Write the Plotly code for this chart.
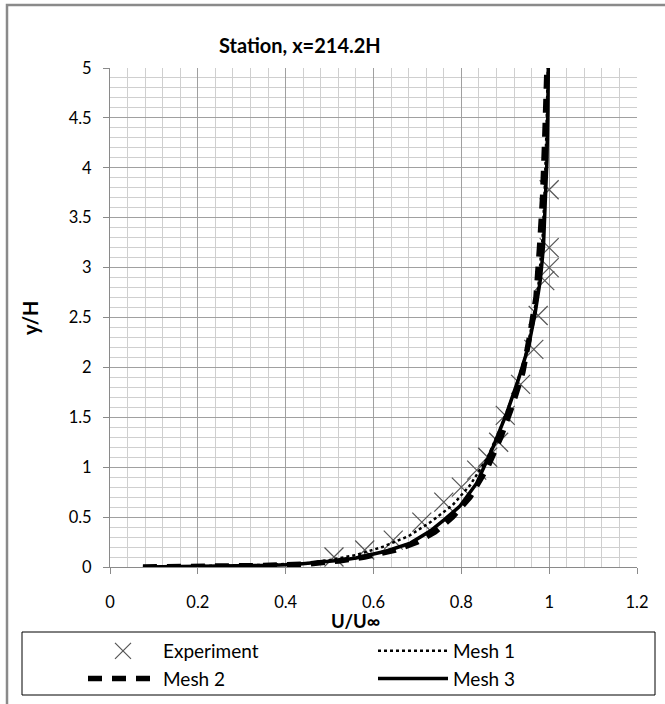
import plotly.graph_objects as go

# ---------------- data ----------------
exp_x = [0.51, 0.58, 0.645, 0.71, 0.76, 0.80, 0.835, 0.86, 0.885, 0.90, 0.935, 0.965, 0.975, 0.99, 1.0, 1.0, 1.0]
exp_y = [0.10, 0.17, 0.27, 0.45, 0.65, 0.80, 0.97, 1.10, 1.25, 1.52, 1.83, 2.18, 2.52, 2.87, 3.0, 3.2, 3.78]

mesh1_x = [0.075, 0.15, 0.25, 0.35, 0.45, 0.50, 0.56, 0.62, 0.68, 0.73, 0.78, 0.82, 0.86, 0.89, 0.92, 0.945, 0.962, 0.975, 0.985, 0.99, 0.994, 0.997]
mesh1_y = [0.0, 0.004, 0.01, 0.02, 0.04, 0.07, 0.12, 0.20, 0.31, 0.45, 0.62, 0.82, 1.10, 1.40, 1.75, 2.10, 2.45, 2.80, 3.30, 3.80, 4.40, 5.0]

mesh2_x = [0.075, 0.15, 0.25, 0.35, 0.45, 0.52, 0.58, 0.65, 0.70, 0.74, 0.78, 0.82, 0.86, 0.89, 0.915, 0.94, 0.955, 0.97, 0.978, 0.985, 0.99, 0.995]
mesh2_y = [0.0, 0.003, 0.008, 0.015, 0.03, 0.06, 0.10, 0.17, 0.25, 0.35, 0.50, 0.70, 1.00, 1.30, 1.60, 1.95, 2.30, 2.70, 3.20, 3.70, 4.30, 5.0]

mesh3_x = [0.075, 0.15, 0.25, 0.35, 0.42, 0.48, 0.53, 0.56, 0.63, 0.684, 0.729, 0.76, 0.797, 0.835, 0.873, 0.904, 0.930, 0.953, 0.968, 0.98, 0.987, 0.991, 0.995, 0.997, 0.998]
mesh3_y = [0.0, 0.003, 0.008, 0.015, 0.025, 0.045, 0.07, 0.09, 0.16, 0.24, 0.36, 0.47, 0.61, 0.84, 1.21, 1.55, 1.88, 2.21, 2.54, 2.88, 3.21, 3.65, 4.08, 4.58, 5.0]

title_text = "Station, x=214.2H"
x_title = "U/U∞"
y_title = "y/H"

FONT = "Lato, 'Open Sans', sans-serif"

# plot-area geometry (pixels)
W, H = 665, 704
L, R, T, B = 110, 28, 68, 137
PW, PH = W - L - R, H - T - B


def fx(px):
    return (px - L) / PW


def fy(py):
    return (H - B - py) / PH


fig = go.Figure()
fig.add_trace(go.Scatter(
    x=exp_x, y=exp_y, mode="markers", name="Experiment",
    marker=dict(symbol="x-thin", size=19, color="#555555",
                line=dict(color="#555555", width=1.2)),
))
fig.add_trace(go.Scatter(
    x=mesh1_x, y=mesh1_y, mode="lines", name="Mesh 1",
    line=dict(color="black", width=2.5, dash="dot"),
))
fig.add_trace(go.Scatter(
    x=mesh2_x, y=mesh2_y, mode="lines", name="Mesh 2",
    line=dict(color="black", width=5.5, dash="14px,10px"),
))
fig.add_trace(go.Scatter(
    x=mesh3_x, y=mesh3_y, mode="lines", name="Mesh 3",
    line=dict(color="black", width=3.5),
))

fig.update_layout(
    width=W, height=H,
    margin=dict(l=L, r=R, t=T, b=B, autoexpand=False),
    paper_bgcolor="white", plot_bgcolor="white",
    font=dict(family=FONT, size=16, color="black"),
    showlegend=True,
    legend=dict(
        orientation="h", x=fx(83), y=fy(632), xanchor="left", yanchor="top",
        font=dict(family=FONT, size=19, color="black"),
        entrywidth=205, itemwidth=70, tracegroupgap=0,
        bgcolor="rgba(0,0,0,0)", borderwidth=0,
    ),
    xaxis=dict(
        range=[0, 1.2], dtick=0.2, tick0=0,
        showgrid=True, gridcolor="#a0a0a0", gridwidth=1,
        minor=dict(dtick=0.04, showgrid=True, gridcolor="#cfcfcf", gridwidth=1),
        showline=True, linecolor="#8a8a8a", linewidth=1,
        ticks="outside", ticklen=6, tickcolor="#8a8a8a",
        ticklabelstandoff=14, automargin=False,
        zeroline=False, tickfont=dict(size=16.5),
    ),
    yaxis=dict(
        range=[0, 5], dtick=0.5, tick0=0,
        showgrid=True, gridcolor="#a0a0a0", gridwidth=1,
        minor=dict(dtick=0.1, showgrid=True, gridcolor="#cfcfcf", gridwidth=1),
        showline=True, linecolor="#8a8a8a", linewidth=1,
        ticks="outside", ticklen=6, tickcolor="#8a8a8a",
        ticklabelstandoff=8, automargin=False,
        zeroline=False, tickfont=dict(size=16.5),
    ),
    annotations=[
        dict(text="<b>%s</b>" % title_text, x=fx(300), y=fy(45), xref="paper", yref="paper",
             showarrow=False, font=dict(size=20), xanchor="center", yanchor="middle"),
        dict(text="<b>%s</b>" % x_title, x=fx(355), y=fy(621), xref="paper", yref="paper",
             showarrow=False, font=dict(size=18.5), xanchor="center", yanchor="middle"),
        dict(text="<b>%s</b>" % y_title, x=fx(30), y=fy(318), xref="paper", yref="paper",
             showarrow=False, font=dict(size=20), textangle=-90,
             xanchor="center", yanchor="middle"),
    ],
    shapes=[
        # outer chart border (grey)
        dict(type="rect", xref="paper", yref="paper",
             x0=fx(7), x1=fx(700), y0=fy(760), y1=fy(5),
             line=dict(color="#8a8a8a", width=2.5), fillcolor="rgba(0,0,0,0)", layer="below"),
        # legend box
        dict(type="rect", xref="paper", yref="paper",
             x0=fx(22), x1=fx(655), y0=fy(695), y1=fy(632),
             line=dict(color="black", width=1), fillcolor="rgba(0,0,0,0)"),
    ],
)

fig.write_html("out.html")
